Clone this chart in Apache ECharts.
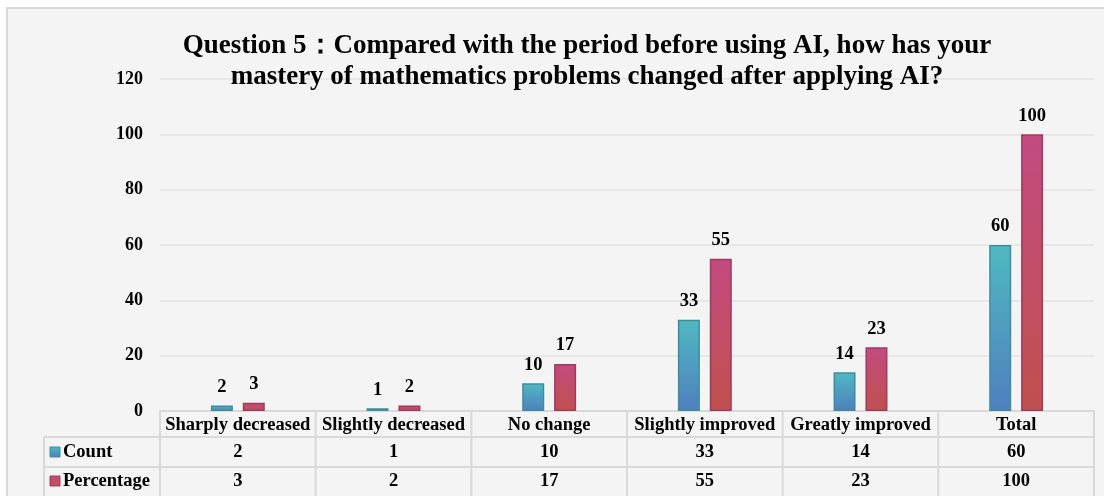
<!DOCTYPE html>
<html><head><meta charset="utf-8">
<script src="https://cdn.jsdelivr.net/npm/echarts@6/dist/echarts.min.js"></script>
<style>html,body{margin:0;padding:0;background:#fff}#c{width:1104px;height:496px}</style>
</head><body><div id="c"></div>
<script>
const categories = ['Sharply decreased','Slightly decreased','No change','Slightly improved','Greatly improved','Total'];
const countValues = [2, 1, 10, 33, 14, 60];
const percentValues = [3, 2, 17, 55, 23, 100];
const seriesNames = ['Count','Percentage'];
const yTicks = [0, 20, 40, 60, 80, 100, 120];
const titleText = 'Question 5\uFF1ACompared with the period before using AI, how has your\nmastery of mathematics problems changed after applying AI?';

const FONT = '"Liberation Serif","Times New Roman",serif';
const W = 1104, H = 496;
const GL = 160, GR = 1094, GT = 79, GB = 411;
const ROW1 = 437, ROW2 = 467, TBL_LEFT = 44;
const LINE = '#d9d9d9';
const TFS = 18.5;

const chart = echarts.init(document.getElementById('c'), null, {renderer:'canvas'});

const countGrad = new echarts.graphic.LinearGradient(0,0,0,1,[{offset:0,color:'#4fb9c1'},{offset:1,color:'#4f7fbf'}]);
const pctGrad = new echarts.graphic.LinearGradient(0,0,0,1,[{offset:0,color:'#c24b80'},{offset:1,color:'#c0504d'}]);

const labelStyle = {show:true, position:'top', distance:9, fontFamily:FONT, fontWeight:'bold', fontSize:TFS, color:'#000'};

const graphics = [];
graphics.push({type:'rect', shape:{x:0,y:0,width:W,height:8}, style:{fill:'#fff'}, silent:true});
graphics.push({type:'rect', shape:{x:0,y:0,width:7,height:H}, style:{fill:'#fff'}, silent:true});
graphics.push({type:'polyline', shape:{points:[[7,H+5],[7,8],[W+5,8]]}, style:{stroke:LINE, lineWidth:2, fill:null}, silent:true});
const n = categories.length;
const step = (GR - GL) / n;
for (let i = 0; i <= n; i++) {
  const x = GL + step * i;
  graphics.push({type:'line', shape:{x1:x,y1:GB,x2:x,y2:H+5}, style:{stroke:LINE, lineWidth:2}, silent:true});
}
graphics.push({type:'line', shape:{x1:TBL_LEFT,y1:ROW1,x2:GR,y2:ROW1}, style:{stroke:LINE, lineWidth:2}, silent:true});
graphics.push({type:'line', shape:{x1:TBL_LEFT,y1:ROW2,x2:GR,y2:ROW2}, style:{stroke:LINE, lineWidth:2}, silent:true});
graphics.push({type:'line', shape:{x1:TBL_LEFT,y1:ROW1,x2:TBL_LEFT,y2:H+5}, style:{stroke:LINE, lineWidth:2}, silent:true});
const keyFills = [countGrad, pctGrad];
const keyStrokes = ['#3f8c9c','#9e3b5e'];
const rowCenters = [452, 481];
seriesNames.forEach((nm, i) => {
  graphics.push({type:'rect', shape:{x:50,y:rowCenters[i]-5,width:10,height:10}, style:{fill:keyFills[i], stroke:keyStrokes[i], lineWidth:1}, silent:true});
  graphics.push({type:'text', x:63, y:rowCenters[i], style:{text:nm, font:'bold '+TFS+'px '+FONT, fill:'#000', textVerticalAlign:'middle'}, silent:true});
});

const hiddenAxis = {show:false};
const tblLabel = (m) => ({margin:m, verticalAlign:'middle', fontFamily:FONT, fontWeight:'bold', fontSize:TFS, color:'#000', interval:0});
chart.setOption({
  backgroundColor:'#f4f4f4',
  animation:false,
  title:{text:titleText, left:582, top:26, textAlign:'center',
    textStyle:{fontFamily:FONT, fontWeight:'bold', fontSize:27, lineHeight:31, color:'#000'}},
  grid:{left:GL, right:W-GR, top:GT, bottom:H-GB, containLabel:false},
  xAxis:[
    {type:'category', data:categories, axisLine:{show:true, lineStyle:{color:LINE, width:2}}, axisTick:{show:false}, axisLabel:tblLabel(14)},
    {type:'category', data:countValues.map(String), position:'bottom', axisLine:hiddenAxis, axisTick:hiddenAxis, axisLabel:tblLabel(41)},
    {type:'category', data:percentValues.map(String), position:'bottom', axisLine:hiddenAxis, axisTick:hiddenAxis, axisLabel:tblLabel(70)}
  ],
  yAxis:{type:'value', min:yTicks[0], max:yTicks[yTicks.length-1], interval:yTicks[1]-yTicks[0],
    axisLine:{show:false}, axisTick:{show:false},
    splitLine:{lineStyle:{color:'#e3e3e3', width:1.5}},
    axisLabel:{margin:17, fontFamily:FONT, fontWeight:'bold', fontSize:18, color:'#000'}},
  series:[
    {name:seriesNames[0], type:'bar', data:countValues, barWidth:22, barGap:'45%',
     itemStyle:{color:countGrad, borderColor:'#3f8c9c', borderWidth:1.5}, label:labelStyle},
    {name:seriesNames[1], type:'bar', data:percentValues, barWidth:22, barGap:'45%',
     itemStyle:{color:pctGrad, borderColor:'#9e3b5e', borderWidth:1.5}, label:labelStyle}
  ],
  graphic:{elements:graphics}
});
</script></body></html>
